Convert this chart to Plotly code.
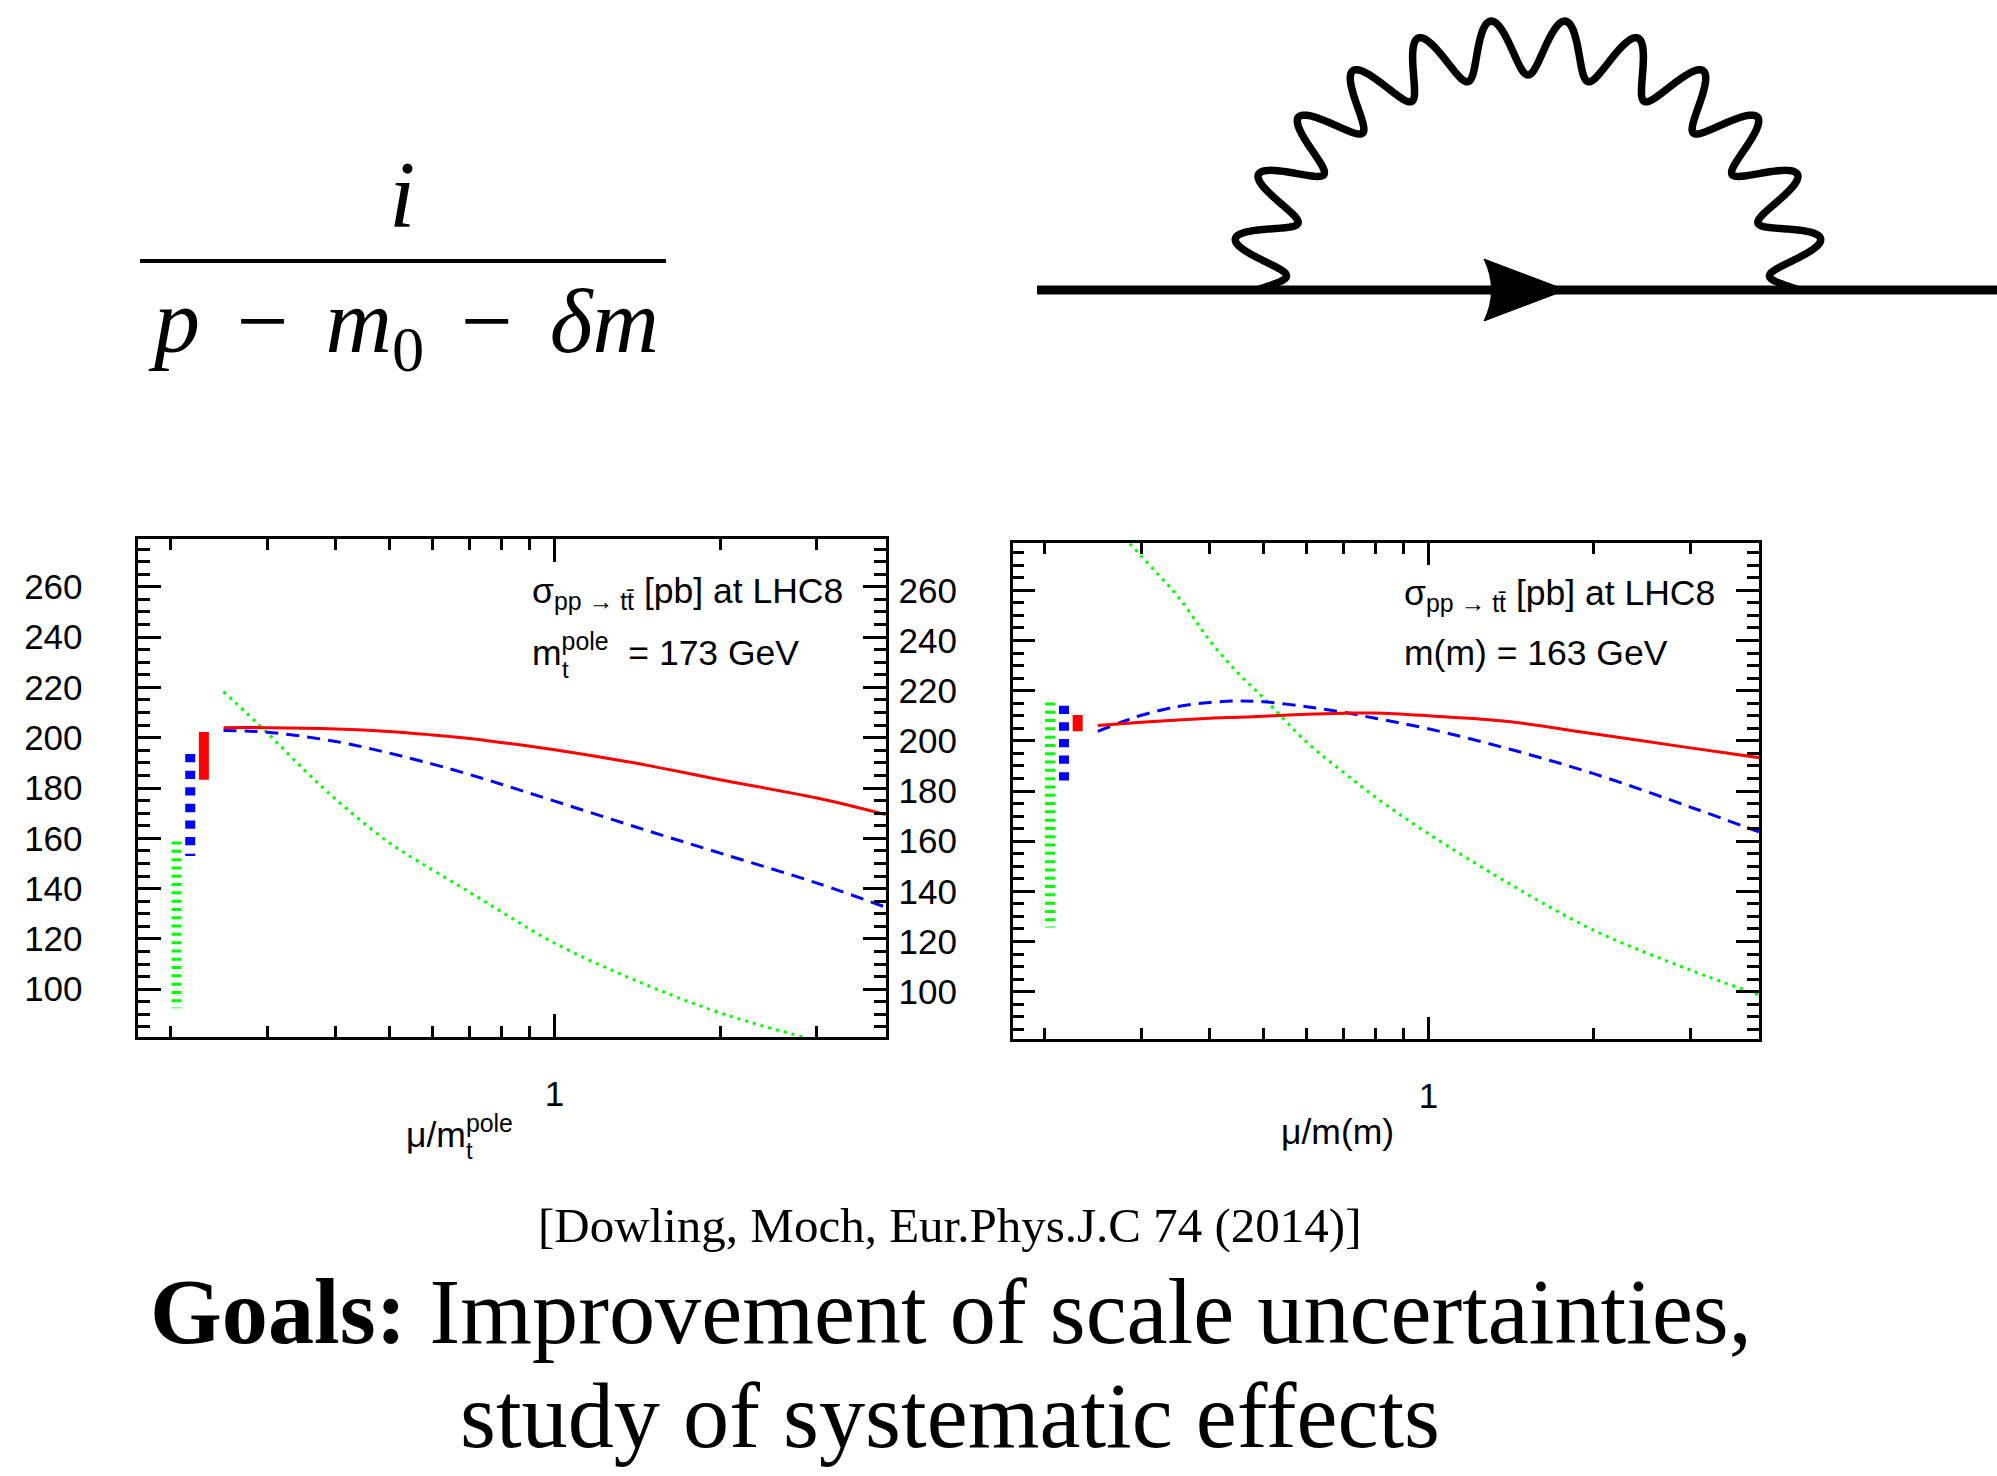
import numpy as np
import plotly.graph_objects as go

W, H = 1997, 1476

# ---------------- data : left panel (pole mass, m_t^pole = 173 GeV) ----------------
mu_pole = [0.25, 0.3, 0.4, 0.5, 0.6, 0.7, 0.8, 1.0, 1.4, 2.0, 3.0, 4.0]
sig_pole_nnlo = [204.0, 204.0, 203.5, 202.5, 201.1, 199.7, 198.1, 195.2, 189.9, 183.3, 176.0, 169.4]
sig_pole_nlo = [202.9, 202.2, 198.5, 193.9, 189.5, 185.4, 181.5, 174.8, 164.6, 154.1, 142.2, 132.6]
mu_pole_lo = [0.25, 0.3, 0.35, 0.4, 0.5, 0.6, 0.7, 0.8, 1.0, 1.4, 2.0, 3.0, 4.0]
sig_pole_lo = [218.3, 202.0, 187.3, 175.5, 158.3, 147.4, 138.6, 130.8, 118.3, 103.6, 90.6, 79.5, 72.5]
# scale-uncertainty bars (LO, NLO, NNLO)
bar_pole_mu = [0.2054, 0.2175, 0.2303]
bar_pole_lo = [92.4, 153.0, 183.3]
bar_pole_hi = [158.7, 193.5, 202.3]

# ---------------- data : right panel (MSbar mass, m(m) = 163 GeV) ----------------
mu_msb = [0.25, 0.3, 0.35, 0.4, 0.45, 0.5, 0.6, 0.7, 0.8, 1.0, 1.4, 2.0, 3.0, 4.0]
sig_msb_nnlo = [206.1, 207.4, 208.3, 209.0, 209.4, 209.8, 210.6, 211.0, 211.1, 210.0, 207.7, 202.8, 197.2, 193.3]
mu_msb_nlo = [0.25, 0.275, 0.3, 0.35, 0.4, 0.45, 0.5, 0.6, 0.7, 0.8, 1.0, 1.4, 2.0, 3.0, 4.0]
sig_msb_nlo = [203.8, 207.3, 210.2, 213.7, 215.3, 215.9, 215.6, 213.6, 211.4, 209.0, 204.8, 196.8, 186.9, 173.6, 163.7]
sig_msb_lo = [293.0, 273.6, 257.5, 239.9, 227.0, 217.3, 199.5, 187.5, 177.6, 163.0, 143.2, 124.5, 108.6, 98.7]
bar_msb_mu = [0.2046, 0.2170, 0.2298]
bar_msb_lo = [125.6, 184.2, 203.8]
bar_msb_hi = [215.3, 214.0, 210.3]

# ---------------- axes ticks ----------------
y_ticks = [100, 120, 140, 160, 180, 200, 220, 240, 260]
x_major = [1]
x_major_text = ["1"]
x_minor = [0.2, 0.3, 0.4, 0.5, 0.6, 0.7, 0.8, 0.9, 2, 3]

GREEN, BLUE, RED = "#00ff00", "#0000ff", "#ff0000"

fig = go.Figure()


def add_panel(xa, ya, mu_r, red, mu_b, blue, mu_g, green, bmu, blo, bhi):
    fig.add_trace(go.Scatter(x=mu_g, y=green, mode="lines", xaxis=xa, yaxis=ya,
                             line=dict(color=GREEN, width=3, dash="3px,5px", shape="spline")))
    fig.add_trace(go.Scatter(x=mu_b, y=blue, mode="lines", xaxis=xa, yaxis=ya,
                             line=dict(color=BLUE, width=3, dash="13px,8px", shape="spline")))
    fig.add_trace(go.Scatter(x=mu_r, y=red, mode="lines", xaxis=xa, yaxis=ya,
                             line=dict(color=RED, width=3, shape="spline")))
    styles = [(GREEN, "3px,5.3px"), (BLUE, "8.3px,8.3px"), (RED, "solid")]
    for (c, d), m, lo, hi in zip(styles, bmu, blo, bhi):
        fig.add_trace(go.Scatter(x=[m, m], y=[hi, lo], mode="lines", xaxis=xa, yaxis=ya,
                                 line=dict(color=c, width=10, dash=d)))


add_panel("x", "y", mu_pole, sig_pole_nnlo, mu_pole, sig_pole_nlo, mu_pole_lo, sig_pole_lo,
          bar_pole_mu, bar_pole_lo, bar_pole_hi)
add_panel("x2", "y2", mu_msb, sig_msb_nnlo, mu_msb_nlo, sig_msb_nlo, mu_msb, sig_msb_lo,
          bar_msb_mu, bar_msb_lo, bar_msb_hi)

tickfont = dict(family="Liberation Sans", size=35, color="black")
xcommon = dict(type="log", range=[np.log10(0.175), np.log10(4.0)], showline=True,
               linecolor="black", linewidth=2.5, mirror="ticks", ticks="inside",
               ticklen=23, tickwidth=2.5, tickcolor="black", tickvals=x_major,
               ticktext=x_major_text,
               minor=dict(tickvals=x_minor, ticks="inside", ticklen=11.5, tickwidth=2.5,
                          tickcolor="black", showgrid=False),
               showgrid=False, zeroline=False, tickfont=tickfont, ticklabelstandoff=24)
ycommon = dict(range=[81, 279], showline=True, linecolor="black", linewidth=2.5,
               mirror="ticks", ticks="inside", ticklen=23, tickwidth=2.5, tickcolor="black",
               tickvals=y_ticks,
               minor=dict(dtick=5, tick0=0, ticks="inside", ticklen=12, tickwidth=2.5,
                          tickcolor="black", showgrid=False),
               showgrid=False, zeroline=False, tickfont=tickfont, ticklabelstandoff=46)


def px(x):
    return x / W


def py(y):
    return 1 - y / H


fig.update_layout(
    width=W, height=H, autosize=False, margin=dict(l=0, r=0, t=0, b=0),
    paper_bgcolor="white", plot_bgcolor="white", showlegend=False,
    xaxis=dict(domain=[px(138.3), px(885.7)], anchor="y", **xcommon),
    yaxis=dict(domain=[py(1037), py(539)], anchor="x", **ycommon),
    xaxis2=dict(domain=[px(1012.7), px(1759)], anchor="y2", **xcommon),
    yaxis2=dict(domain=[py(1039.3), py(542.7)], anchor="x2", **ycommon),
)

ann = []


def txt(x, y, s, size, family="Liberation Sans", xanchor="left", yanchor="middle"):
    ann.append(dict(x=px(x), y=py(y), xref="paper", yref="paper", text=s, showarrow=False,
                    xanchor=xanchor, yanchor=yanchor,
                    font=dict(family=family, size=size, color="black")))


sig_txt = "σ<sub>pp → tt\u0304</sub> [pb] at LHC8"
FS = 35.5
# left panel texts
txt(530, 593, sig_txt, FS)
txt(530, 650, "m<sup>pole</sup>\u00a0 = 173 GeV", FS)
txt(560, 669, "t", 24)
txt(404, 1132, "μ/m<sup>pole</sup>", FS)
txt(464, 1150, "t", 24)
# right panel texts
txt(1402, 595, sig_txt, FS)
txt(1402, 653, "m(m) = 163 GeV", FS)
txt(1279, 1132, "μ/m(m)", FS)

# formula
txt(402, 195, "<i>i</i>", 95, family="Liberation Serif", xanchor="center")
sp = "\u2009\u2009"
txt(403, 327, "<i>p</i>" + sp + "−" + sp + "<i>m</i><sub>0</sub>" + sp + "−" + sp + "<i>δm</i>",
    92, family="Liberation Serif", xanchor="center")

# bottom texts
txt(949.5, 1225, "[Dowling, Moch, Eur.Phys.J.C 74 (2014)]", 49, family="Liberation Serif",
    xanchor="center")
txt(950.7, 1312, "<b>Goals:</b> Improvement of scale uncertainties,", 92.3,
    family="Liberation Serif", xanchor="center")
txt(950, 1416, "study of systematic effects", 92.3, family="Liberation Serif", xanchor="center")

fig.update_layout(annotations=ann)

# ---------------- decorative shapes: fraction bar and Feynman diagram ----------------
shapes = []
shapes.append(dict(type="line", xref="paper", yref="paper", x0=px(140), x1=px(666),
                   y0=py(261), y1=py(261), line=dict(color="black", width=4)))
shapes.append(dict(type="line", xref="paper", yref="paper", x0=px(1037), x1=px(1997),
                   y0=py(290), y1=py(290), line=dict(color="black", width=9)))
# photon loop
cx, cy, rx, ry, A = 1528.0, 290.0, 270.0, 243.0, 28.0
t0, P = 10.9, (180 - 2 * 10.9) / 11
th = np.linspace(0, 180, 1500)
c = np.cos(2 * np.pi * (th - t0) / P)
xs = cx - (rx + A * c) * np.cos(np.radians(th))
ys = cy - (ry + A * c) * np.sin(np.radians(th))
path = "M " + " L ".join(f"{px(a):.5f},{py(b):.5f}" for a, b in zip(xs, ys))
shapes.append(dict(type="path", xref="paper", yref="paper", path=path,
                   line=dict(color="black", width=7.5)))
# arrow head
arrow = (f"M {px(1484):.5f},{py(259):.5f} L {px(1566):.5f},{py(290):.5f} "
         f"L {px(1484):.5f},{py(321):.5f} Q {px(1499):.5f},{py(290):.5f} "
         f"{px(1484):.5f},{py(259):.5f} Z")
shapes.append(dict(type="path", xref="paper", yref="paper", path=arrow,
                   fillcolor="black", line=dict(color="black", width=1)))
fig.update_layout(shapes=shapes)

fig.write_html("out.html")
